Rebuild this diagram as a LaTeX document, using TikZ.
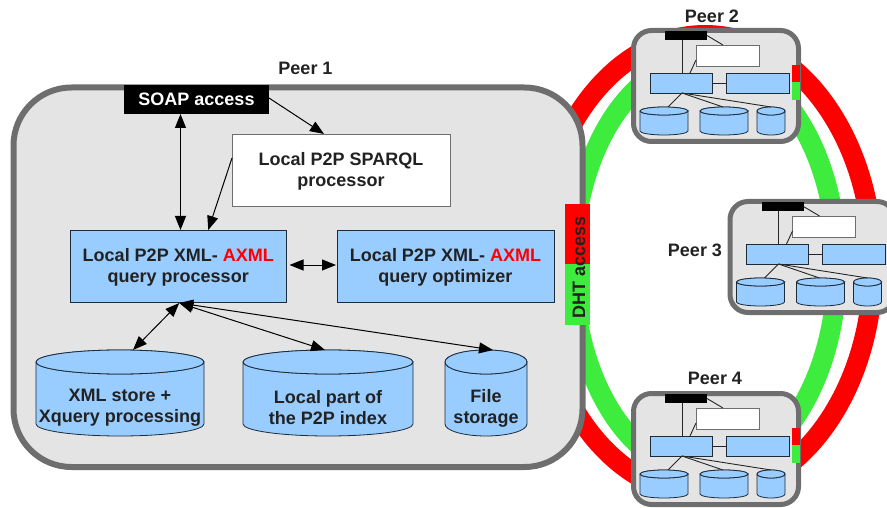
\documentclass[tikz,border=0pt]{standalone}
\usepackage{fontspec}
\setmainfont{Liberation Sans}
\usetikzlibrary{arrows.meta}
\definecolor{pgray}{HTML}{6E6E6E}
\definecolor{pfill}{HTML}{E4E4E4}
\definecolor{pblue}{HTML}{99CCFF}
\definecolor{pgreen}{HTML}{3DEC3D}
\definecolor{ptext}{HTML}{222222}
\definecolor{pline}{HTML}{1C2B3A}
\newcommand{\topfix}{\rule{0pt}{16pt}}
\tikzset{
  peerbody/.style={draw=pgray,fill=pfill},
  ring/.style={line width=20pt},
  blue box/.style={draw=pline,fill=pblue,line width=0.8pt,text=ptext},
  white box/.style={draw=pgray,fill=white,line width=0.9pt,text=ptext},
  black box/.style={fill=black,text=white},
  lbl/.style={font=\fontsize{18}{21}\selectfont\bfseries,text=ptext,align=center},
  plain link/.style={draw=black!85,line width=0.9pt},
  two way/.style={draw=black,line width=1pt,{Triangle[length=14pt,width=11pt]}-{Triangle[length=14pt,width=11pt]}},
  one way/.style={draw=black,line width=1pt,-{Triangle[length=14pt,width=11pt]}},
  cyl/.style={draw=pline,fill=pblue,line width=0.8pt},
}
% name, x1,y1,x2,y2, style+text
\newcommand{\bx}[7][]{\node[#6,#1,inner sep=0pt,outer sep=0pt,minimum width={(#4-#2)*1pt},minimum height={(#5-#3)*1pt}] (#7) at ({(#2+#4)/2},{(#3+#5)/2})}
% cylinder: name,x1,y1,x2,y2,ry
\newcommand{\cylinder}[6]{%
  \path[cyl] (#2,#3+#6) -- (#2,#5-#6) arc[start angle=180,end angle=360,x radius={(#4-#2)/2*1pt},y radius=#6pt,] -- (#4,#3+#6) arc[start angle=0,end angle=360,x radius={(#4-#2)/2*1pt},y radius=#6pt] -- cycle;
  \path[cyl] (#2,#3+#6) arc[start angle=180,end angle=-180,x radius={(#4-#2)/2*1pt},y radius=#6pt];
  \coordinate (#1) at ({(#2+#4)/2},#3);
}
\newcommand{\miniPeer}[3]{%
\begin{scope}[shift={(#2,#3)}]
  \path[peerbody,line width=5pt,rounded corners=18pt] (633.5,30.5) rectangle (798.5,141.5);
  \bx{665}{31}{707}{40}{black box}{#1s} {};
  \bx{696}{45}{759}{66}{white box}{#1w} {};
  \bx{650}{73}{712}{93}{blue box}{#1a} {};
  \bx{726}{73}{789}{93}{blue box}{#1b} {};
  \cylinder{#1c}{640}{107}{688}{135}{4}
  \cylinder{#1d}{700}{107}{748}{135}{4}
  \cylinder{#1e}{757}{107}{785}{135}{4}
  \bx{792}{65}{800}{82}{fill=red}{#1r} {};
  \bx{792}{82}{800}{100}{fill=pgreen}{#1g} {};
  \draw[plain link] ([xshift=-4pt]#1s.south) -- ([xshift=1pt]#1a.north);
  \draw[plain link] (#1s.east) -- ([xshift=-4.5pt]#1w.north);
  \draw[plain link] ([yshift=-4.5pt]#1w.west) -- ([xshift=9pt]#1a.north);
  \draw[plain link] (#1a.east) -- (#1b.west);
  \draw[plain link] ([xshift=1pt]#1a.south) -- ([xshift=4pt]#1c);
  \draw[plain link] ([xshift=1pt]#1a.south) -- ([xshift=-1pt]#1d);
  \draw[plain link] ([xshift=1pt]#1a.south) -- (#1e);
\end{scope}}
\begin{document}
\begin{tikzpicture}[x=1pt,y=-1pt]
\useasboundingbox (0,0) rectangle (887,508);
\clip (0,0) rectangle (887,508);
% rings
\draw[ring,red] (705,265) ellipse [x radius=168pt,y radius=230pt];
\draw[ring,pgreen] (705,266) ellipse [x radius=132pt,y radius=207pt];
% Peer 1
\path[peerbody,line width=6pt,rounded corners=58pt] (13.5,87.5) rectangle (582.5,467);
\bx{124}{85}{269}{114}{black box,font=\fontsize{18}{21}\selectfont\bfseries}{soap} {SOAP access};
\bx{232}{134}{450}{206}{white box,lbl}{sparql} {\topfix Local P2P SPARQL\\processor};
\bx{70}{230}{286.5}{302}{blue box,lbl}{qp} {\topfix Local P2P XML- \textcolor{red}{AXML}\\query processor};
\bx{337}{230}{554}{302}{blue box,lbl}{qo} {\topfix Local P2P XML- \textcolor{red}{AXML}\\query optimizer};
\cylinder{cyla}{36}{350}{204}{436}{12}
\cylinder{cylb}{243}{350}{413}{436}{12}
\cylinder{cylc}{445}{350}{527}{436}{12}
\node[lbl] (ta) at (120,408) {XML store +\\Xquery processing};
\node[lbl] (tb) at (328,408) {Local part of\\the P2P index};
\node[lbl] (tc) at (486,408) {File\\storage};
\bx{565}{204}{590}{264}{fill=red}{dhtr} {};
\bx{565}{264}{590}{325}{fill=pgreen}{dhtg} {};
\node[lbl,rotate=90] (dht) at (579,267) {DHT access};
% arrows
\draw[two way] ([xshift=-16pt]soap.south) -- ([xshift=2.25pt]qp.north);
\draw[one way] ([yshift=1.5pt]soap.east) -- ([xshift=-17pt]sparql.north);
\draw[one way] ([yshift=12pt]sparql.west) -- ([xshift=30pt]qp.north);
\draw[two way] ([xshift=3pt,yshift=1pt]qp.east) -- ([xshift=-1pt,yshift=1pt]qo.west);
\draw[two way] ([xshift=1pt,yshift=-1pt]qp.south) -- ([xshift=13pt]cyla);
\draw[two way] ([xshift=1pt,yshift=-1pt]qp.south) -- ([xshift=-3pt]cylb);
\draw[two way] ([xshift=1pt,yshift=-1pt]qp.south) -- ([xshift=7pt]cylc);
% small peers
\miniPeer{pb}{0}{0}
\miniPeer{pc}{96.5}{171}
\miniPeer{pd}{0}{363}
% labels
\node[lbl] (l1) at (305.5,68) {Peer 1};
\node[lbl] (l2) at (712,16) {Peer 2};
\node[lbl] (l3) at (695,250) {Peer 3};
\node[lbl] (l4) at (715,378) {Peer 4};
\end{tikzpicture}
\end{document}
